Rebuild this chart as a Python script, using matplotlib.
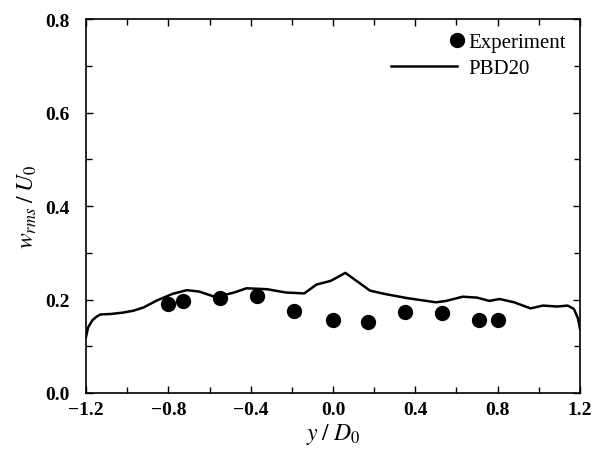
import numpy as np
import matplotlib
matplotlib.use("Agg")
import matplotlib.pyplot as plt
from matplotlib.ticker import MultipleLocator
from matplotlib.legend_handler import HandlerLine2D, HandlerLine2DCompound

# experiment points
exp_y = [-0.80, -0.73, -0.55, -0.37, -0.19, 0.00, 0.17, 0.35, 0.53, 0.71, 0.80]
exp_w = [0.190, 0.197, 0.203, 0.208, 0.176, 0.157, 0.151, 0.173, 0.171, 0.156, 0.156]

# PBD20 simulation curve
sim_y = [-1.20, -1.19, -1.17, -1.15, -1.13, -1.08, -1.02, -0.97, -0.92, -0.86, -0.78,
         -0.71, -0.65, -0.57, -0.48, -0.42, -0.32, -0.23, -0.14, -0.08, -0.01, 0.06,
         0.18, 0.25, 0.36, 0.50, 0.55, 0.63, 0.70, 0.76, 0.81, 0.88, 0.96, 1.02,
         1.09, 1.14, 1.17, 1.19, 1.20]
sim_w = [0.120, 0.140, 0.155, 0.163, 0.168, 0.169, 0.172, 0.176, 0.183, 0.197, 0.212,
         0.220, 0.217, 0.205, 0.215, 0.224, 0.222, 0.215, 0.213, 0.232, 0.240, 0.257,
         0.219, 0.212, 0.203, 0.194, 0.197, 0.206, 0.204, 0.197, 0.201, 0.194, 0.181, 0.187,
         0.185, 0.187, 0.180, 0.160, 0.137]

plt.rcParams['font.family'] = 'Liberation Serif'
plt.rcParams['mathtext.fontset'] = 'stix'


class RightMarker(HandlerLine2DCompound):
    # put the legend marker at the right end of the handle box
    def get_xdata(self, legend, xdescent, ydescent, width, height, fontsize):
        xd = np.array([-xdescent, width - xdescent])
        xm = np.array([width - xdescent])
        return xd, xm


fig = plt.figure(figsize=(5.94, 4.56), dpi=100)
ax = fig.add_axes([0.1448, 0.136, 0.8316, 0.820])

line, = ax.plot(sim_y, sim_w, color='black', lw=1.8, label='PBD20')
pts, = ax.plot(exp_y, exp_w, 'o', color='black', ms=10, label='Experiment')

ax.set_xlim(-1.2, 1.2)
ax.set_ylim(0.0, 0.8)
ax.set_xticks(np.arange(-1.2, 1.21, 0.4))
ax.set_yticks(np.arange(0.0, 0.81, 0.2))
ax.xaxis.set_minor_locator(MultipleLocator(0.2))
ax.yaxis.set_minor_locator(MultipleLocator(0.1))
ax.set_xticklabels(['\u22121.2', '\u22120.8', '\u22120.4', '0.0', '0.4', '0.8', '1.2'])
ax.set_yticklabels(['0.0', '0.2', '0.4', '0.6', '0.8'])
ax.tick_params(which='both', direction='in', top=True, right=True, width=1)
ax.tick_params(which='major', length=5, labelsize=14)
ax.tick_params(axis='x', which='major', pad=6)
ax.tick_params(axis='y', which='major', pad=12)
ax.tick_params(which='minor', length=4)
for lab in ax.get_xticklabels() + ax.get_yticklabels():
    lab.set_fontweight('bold')
for s in ax.spines.values():
    s.set_linewidth(1.2)

ax.set_xlabel(r'$y\;/\;D_\mathit{0}$', fontsize=17, labelpad=2)
ax.set_ylabel(r'$w_{rms}\;/\;U_\mathit{0}$', fontsize=17, labelpad=4)

ax.legend([pts, line], ['Experiment', 'PBD20'], loc='upper right', frameon=False,
          fontsize=15, handlelength=3.2, handletextpad=0.55, borderaxespad=0.15,
          borderpad=0.5, labelspacing=0.3,
          handler_map={pts: RightMarker(), line: HandlerLine2D()})

fig.savefig('out.png', dpi=100)
